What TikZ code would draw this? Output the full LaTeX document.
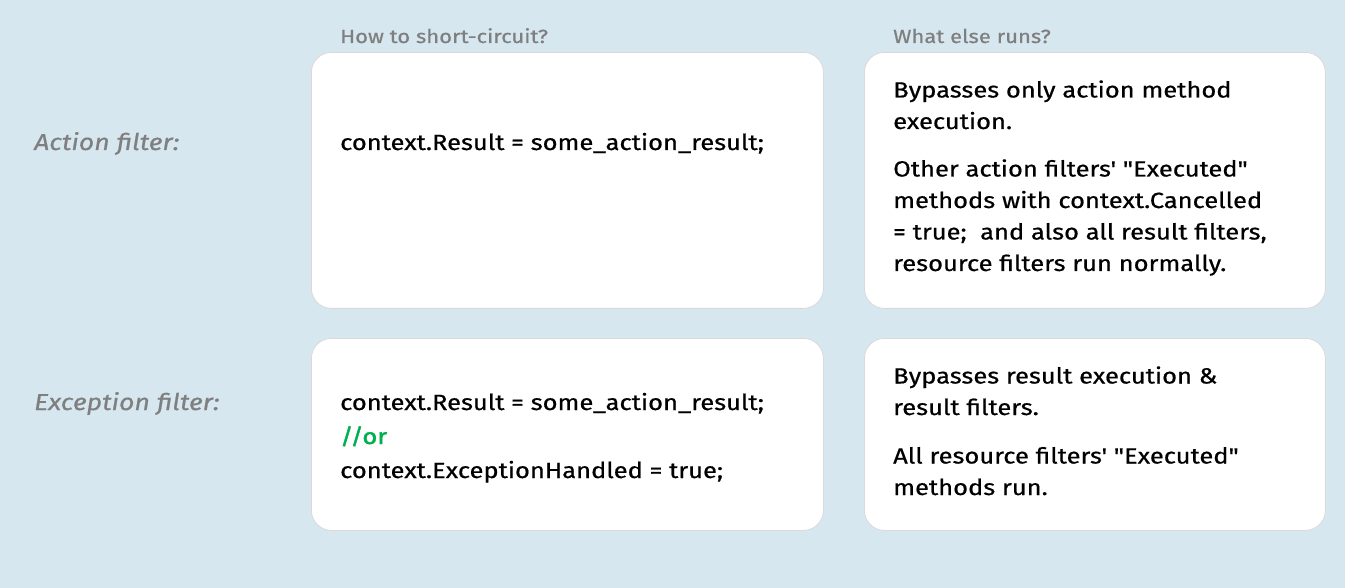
\documentclass[tikz,border=0pt]{standalone}
\usepackage{fontspec}
\setmainfont{Fira Sans}[FakeStretch=1.16, FakeBold=0.6, Ligatures=TeXOff]
\newfontfamily\orfont{Fira Sans}[FakeStretch=1.16, FakeBold=1.8, Ligatures=TeXOff]
\usetikzlibrary{positioning}
\definecolor{bgblue}{HTML}{D7E7F0}
\definecolor{headgray}{HTML}{7F7F7F}
\definecolor{rimgray}{HTML}{D9D9D9}
\definecolor{codegreen}{HTML}{00B050}
\tikzset{
  panel/.style = {draw=rimgray, fill=white, line width=0.8pt, rounded corners=20pt, anchor=north west, minimum width=512pt, inner sep=0pt},
  head/.style = {anchor=base west, inner sep=0pt, text=headgray, font=\fontsize{19}{22}\selectfont},
  rowlabel/.style = {anchor=base west, inner sep=0pt, text=headgray, font=\fontsize{23}{28}\selectfont\itshape},
  body/.style = {anchor=base west, inner sep=0pt, align=left, font=\fontsize{22}{31.5}\selectfont}
}

\begin{document}
\begin{tikzpicture}[x=1pt, y=-1pt]
		\fill [bgblue] (0,0) rectangle (1345,588);
		\useasboundingbox (0,0) rectangle (1345,588);
		% panels
		\node (acthow) [panel, minimum height=256pt] at (311,52) {};
		\node (actelse) [panel, minimum width=461pt, minimum height=256pt] at (864,52) {};
		\node (exchow) [panel, minimum height=192pt] at (311,338) {};
		\node (excelse) [panel, minimum width=461pt, minimum height=192pt] at (864,338) {};
		% headings
		\node (howhead) [head] at (340,43) {How to short-circuit?};
		\node (elsehead) [head] at (893,43) {What else runs?};
		\node (actlabel) [rowlabel] at (34,150) {Action filter:};
		\node (exclabel) [rowlabel] at (34,410) {Exception filter:};
		% texts (multi-line nodes sit on their last line)
		\node (actcode) [body] at (340,150) {context.Result = some\_action\_result;};
		\node (actrun1) [body] at (893,129) {Bypasses only action method\\execution.};
		\node (actrun2) [body] at (893,271) {Other action filters' "Executed"\\methods with context.Cancelled\\= true;\ \ and also all result filters,\\resource filters run normally.};
		\node (exccode) [body, font=\fontsize{22}{34}\selectfont] at (340,478) {context.Result = some\_action\_result;\\\textcolor{codegreen}{\orfont //or}\\context.ExceptionHandled = true;};
		\node (excrun1) [body] at (893,415) {Bypasses result execution \&\\result filters.};
		\node (excrun2) [body] at (893,495) {All resource filters' "Executed"\\methods run.};
\end{tikzpicture}
\end{document}
